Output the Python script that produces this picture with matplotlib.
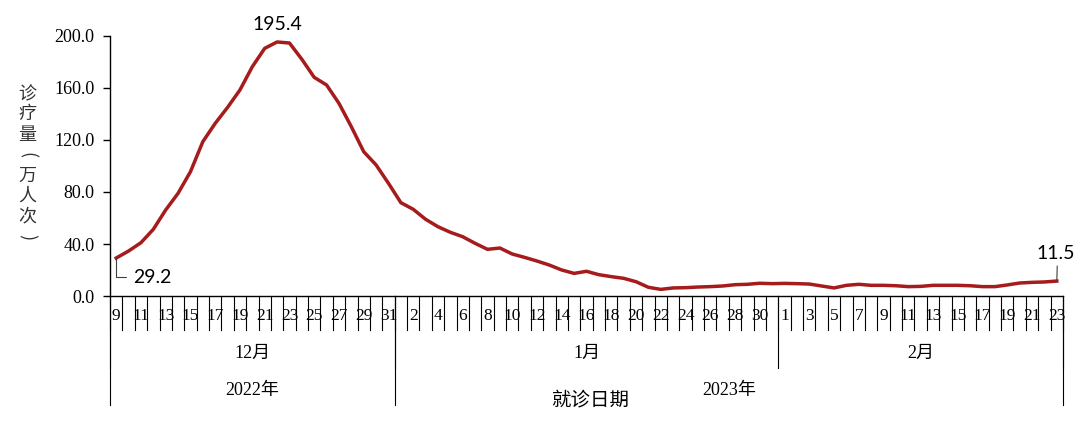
import matplotlib
matplotlib.use('Agg')
import matplotlib.pyplot as plt

# ---数据：2022-12-09 至 2023-02-23 每日诊疗量（万人次）
dec_days = list(range(9, 32))
jan_days = list(range(1, 32))
feb_days = list(range(1, 24))
months = ['12月', '1月', '2月']
years = ['2022年', '2023年']
dec_vals = [29.2, 34.6, 41.0, 51.3, 66.2, 79.0, 95.6, 118.7, 132.8, 145.1, 158.5, 176.4,
            190.5, 195.4, 194.6, 182.1, 168.2, 162.3, 148.2, 130.2, 111.0, 100.8, 86.7]
jan_vals = [71.8, 66.7, 59.0, 53.3, 49.0, 45.6, 40.5, 35.9, 36.9, 32.3, 29.7, 26.9, 23.8,
            20.0, 17.4, 19.0, 16.4, 14.9, 13.6, 11.0, 6.7, 5.1, 6.2, 6.4, 6.9, 7.2, 7.7,
            8.7, 9.0, 9.8, 9.5]
feb_vals = [9.7, 9.5, 9.2, 7.7, 6.2, 8.2, 9.0, 8.2, 8.2, 7.9, 7.2, 7.4, 8.2, 8.2, 8.2,
            7.9, 7.2, 7.2, 8.5, 10.0, 10.5, 10.8, 11.5]
yticks = [0, 40, 80, 120, 160, 200]
ylabel = '诊疗量（万人次）'

days = dec_days + jan_days + feb_days
vals = dec_vals + jan_vals + feb_vals
n = len(vals)
xs = list(range(n))

SERIF = ['Liberation Serif', 'Noto Sans CJK SC']
CJK = ['Noto Sans CJK SC', 'DejaVu Sans']
NUM = ['Lato', 'DejaVu Sans']
LINE_C = '#A61B1B'

fig = plt.figure(figsize=(10.8, 4.23), dpi=100)
ax = fig.add_axes([110 / 1080, 127 / 423, 953 / 1080, 260 / 423])

ax.plot(xs, vals, color=LINE_C, lw=2.5, solid_joinstyle='round')

ax.set_xlim(-0.5, n - 0.5)
ax.set_ylim(0, 200)
ax.set_yticks(yticks)
ax.set_yticklabels(['%.1f' % v for v in yticks], family=SERIF, fontsize=13)
ax.tick_params(axis='y', direction='out', length=5, width=1, pad=6)
ax.set_xticks([])
for s in ['top', 'right']:
    ax.spines[s].set_visible(False)
ax.spines['left'].set_linewidth(1)
ax.spines['bottom'].set_linewidth(1)

# ---多级分类坐标轴
tr = ax.get_xaxis_transform()
for i in range(n + 1):
    ax.plot([i - 0.5, i - 0.5], [0, -0.13], color='black', lw=0.8, transform=tr, clip_on=False)
for i in range(0, n, 2):
    ax.text(i, -0.077, str(days[i]), transform=tr, ha='center', va='center',
            family=SERIF, fontsize=12.5)

b1 = len(dec_days) - 0.5
b2 = b1 + len(jan_days)
b3 = n - 0.5
for b in [-0.5, b1, b2, b3]:
    ax.plot([b, b], [0, -0.275], color='black', lw=0.8, transform=tr, clip_on=False)
for b in [-0.5, b1, b3]:
    ax.plot([b, b], [0, -0.42], color='black', lw=0.8, transform=tr, clip_on=False)

for name, lo, hi in zip(months, [-0.5, b1, b2], [b1, b2, b3]):
    ax.text((lo + hi) / 2, -0.219, name, transform=tr, ha='center', va='center',
            family=SERIF, fontsize=13)
for name, lo, hi in zip(years, [-0.5, b1], [b1, b3]):
    ax.text((lo + hi) / 2, -0.362, name, transform=tr, ha='center', va='center',
            family=SERIF, fontsize=13)

fig.text(590 / 1080, 1 - 400 / 423, '就诊日期', ha='center', va='center',
         family=CJK, fontsize=14)

# 纵向排列的纵轴标题，括号旋转
paren = {'（': '(', '）': ')'}
for k, ch in enumerate(ylabel):
    rot = -90 if ch in paren else 0
    fig.text(27 / 1080, 1 - (94 + 20.4 * k) / 423, paren.get(ch, ch), ha='center', va='center',
             family=CJK, fontsize=13, rotation=rot, color='#333333')

# ---数据标签
peak = vals.index(max(vals))
ax.annotate('%.1f' % vals[peak], (peak, vals[peak]), xytext=(0, 12.5), textcoords='offset points',
            ha='center', va='center', family=NUM, fontsize=14)
ax.annotate('%.1f' % vals[0], (0, vals[0]), xytext=(12, -14), textcoords='offset points',
            ha='left', va='center', family=NUM, fontsize=14,
            arrowprops=dict(arrowstyle='-', color='#404040', lw=0.8, shrinkA=3, shrinkB=0,
                            relpos=(0, 0.5),
                            connectionstyle='angle,angleA=0,angleB=90,rad=0'))
ax.annotate('%.1f' % vals[-1], (n - 1, vals[-1]), xytext=(-1, 20), textcoords='offset points',
            ha='center', va='center', family=NUM, fontsize=14,
            arrowprops=dict(arrowstyle='-', color='#404040', lw=0.8, shrinkA=1, shrinkB=0,
                            relpos=(0.55, 0)))

fig.savefig('out.png', dpi=100)
